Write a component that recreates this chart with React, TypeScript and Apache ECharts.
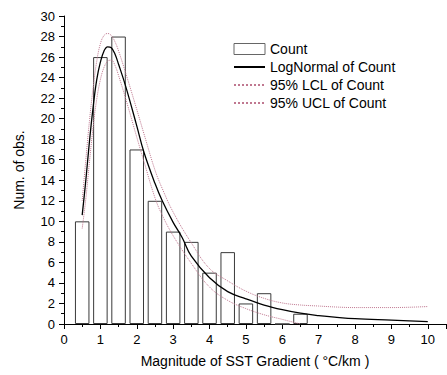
import React, { useEffect, useRef } from "react";
import * as echarts from "echarts";

// Histogram bins
const binCenters = [0.5, 1, 1.5, 2, 2.5, 3, 3.5, 4, 4.5, 5, 5.5, 6, 6.5];
const counts = [10, 26, 28, 17, 12, 9, 8, 5, 7, 2, 3, 0, 1];

// LogNormal fit
const fitX = [0.5, 0.6, 0.7, 0.8, 0.9, 1.0, 1.1, 1.2, 1.3, 1.4, 1.5, 1.7, 2.0, 2.2, 2.5, 2.7, 3.0, 3.25, 3.5, 4.0, 4.5, 5.0, 5.5, 6.0, 6.5, 7.0, 7.5, 8.0, 9.0, 10.0];
const fitY = [10.6, 14.0, 17.8, 21.1, 23.8, 25.5, 26.6, 27.0, 26.9, 26.3, 25.3, 23.1, 19.3, 16.7, 13.7, 12.0, 9.9, 8.4, 6.6, 4.5, 3.15, 2.45, 1.85, 1.4, 1.05, 0.82, 0.65, 0.52, 0.38, 0.24];

// 95% upper confidence limit
const uclX = [0.5, 0.6, 0.7, 0.8, 0.9, 1.0, 1.1, 1.2, 1.3, 1.4, 1.5, 1.7, 2.0, 2.2, 2.5, 2.7, 3.0, 3.5, 4.0, 4.5, 5.0, 5.5, 6.0, 6.5, 7.0, 7.5, 8.0, 9.0, 10.0];
const uclY = [12.0, 16.0, 19.8, 23.0, 25.6, 27.3, 28.1, 28.3, 28.1, 27.5, 26.6, 24.4, 20.9, 18.5, 15.0, 13.2, 10.9, 7.9, 5.4, 4.2, 3.2, 2.5, 2.05, 1.85, 1.75, 1.65, 1.6, 1.6, 1.7];

// 95% lower confidence limit
const lclX = [0.5, 0.6, 0.7, 0.8, 0.9, 1.0, 1.1, 1.2, 1.3, 1.4, 1.5, 1.7, 2.0, 2.2, 2.5, 2.7, 3.0, 3.5, 4.0, 4.5, 5.0, 5.5, 6.0, 6.5];
const lclY = [9.3, 12.2, 15.8, 19.2, 21.9, 23.8, 25.0, 25.6, 25.7, 25.2, 24.2, 21.9, 18.2, 15.8, 12.3, 10.6, 8.6, 5.9, 3.6, 2.3, 1.5, 0.9, 0.45, 0.0];

const seriesNames = ["Count", "LogNormal of Count", "95% LCL of Count", "95% UCL of Count"];
const xTitle = "Magnitude of SST Gradient ( °C/km )";
const yTitle = "Num. of obs.";

const FONT = "'Liberation Sans', Arial, sans-serif";
const pair = (xs: number[], ys: number[]) => xs.map((x, i) => [x, ys[i]]);

export default function App() {
  const ref = useRef<HTMLDivElement>(null);
  useEffect(() => {
    if (!ref.current) return;
    const chart = echarts.init(ref.current, undefined, { renderer: "svg" });
    const dotColor = "#c07890";
    const hiddenSym = { opacity: 0 };
    chart.setOption({
      animation: false,
      backgroundColor: "#fff",
      textStyle: { fontFamily: FONT },
      grid: { left: 64, right: 1, top: 16, bottom: 51, containLabel: false },
      legend: {
        orient: "vertical",
        left: 228,
        top: 37,
        itemWidth: 31,
        itemHeight: 11,
        itemGap: 4,
        textStyle: { fontSize: 14, color: "#000", fontFamily: FONT },
        data: [
          { name: seriesNames[0], icon: "rect", itemStyle: { color: "#fff", borderColor: "#666", borderWidth: 1 } },
          { name: seriesNames[1], itemStyle: hiddenSym },
          { name: seriesNames[2], itemStyle: hiddenSym },
          { name: seriesNames[3], itemStyle: hiddenSym },
        ],
      },
      xAxis: {
        type: "value",
        min: 0,
        max: 10.5,
        interval: 1,
        name: xTitle,
        nameLocation: "middle",
        nameGap: 30,
        nameTextStyle: { fontSize: 14, color: "#000", fontFamily: FONT },
        axisLine: { show: true, onZero: false, lineStyle: { color: "#000", width: 1 } },
        axisTick: { show: true, length: 5, lineStyle: { color: "#000" } },
        minorTick: { show: true, splitNumber: 2, length: 3, lineStyle: { color: "#000" } },
        axisLabel: { fontSize: 13, color: "#000", margin: 9, showMaxLabel: false, fontFamily: FONT },
        splitLine: { show: false },
      },
      yAxis: {
        type: "value",
        min: 0,
        max: 30,
        interval: 2,
        name: yTitle,
        nameLocation: "middle",
        nameGap: 38,
        nameTextStyle: { fontSize: 14, color: "#000", fontFamily: FONT },
        axisLine: { show: true, lineStyle: { color: "#000", width: 1 } },
        axisTick: { show: true, length: 5, lineStyle: { color: "#000" } },
        minorTick: { show: true, splitNumber: 2, length: 3, lineStyle: { color: "#000" } },
        axisLabel: { fontSize: 13, color: "#000", margin: 9, fontFamily: FONT },
        splitLine: { show: false },
      },
      series: [
        {
          name: seriesNames[0],
          type: "bar",
          data: pair(binCenters, counts),
          barWidth: 14.5,
          itemStyle: { color: "#fff", borderColor: "#3a3a3a", borderWidth: 1 },
          z: 1,
        },
        {
          name: seriesNames[1],
          type: "line",
          data: pair(fitX, fitY),
          smooth: 0.4,
          symbol: "none",
          lineStyle: { color: "#000", width: 1.3 },
          itemStyle: { color: "#000" },
          z: 4,
        },
        {
          name: seriesNames[2],
          type: "line",
          data: pair(lclX, lclY),
          smooth: 0.4,
          symbol: "none",
          lineStyle: { color: dotColor, width: 1, type: "dotted" },
          itemStyle: { color: dotColor },
          z: 3,
        },
        {
          name: seriesNames[3],
          type: "line",
          data: pair(uclX, uclY),
          smooth: 0.4,
          symbol: "none",
          lineStyle: { color: dotColor, width: 1, type: "dotted" },
          itemStyle: { color: dotColor },
          z: 3,
        },
      ],
    });
    return () => chart.dispose();
  }, []);
  return (
    <div
      ref={ref}
      style={{ position: "fixed", left: 0, top: 0, width: 447, height: 375 }}
    />
  );
}
